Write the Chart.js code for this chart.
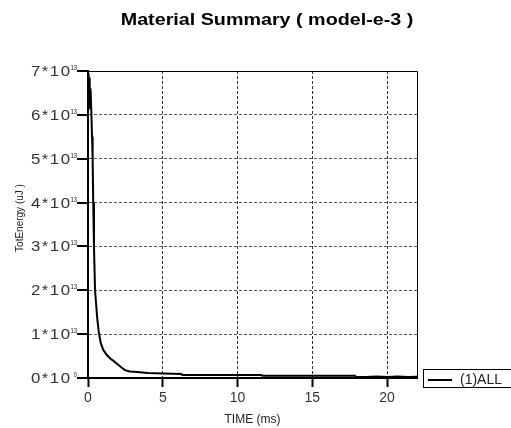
<!DOCTYPE html>
<html>
<head>
<meta charset="utf-8">
<title>Material Summary</title>
<script src="https://cdn.jsdelivr.net/npm/chart.js@4/dist/chart.umd.min.js"></script>
<style>
  html, body { margin: 0; padding: 0; background: #fff; }
  #wrap { width: 511px; height: 428px; }
</style>
</head>
<body>
<div id="wrap"><canvas id="c" width="511" height="428"></canvas></div>
<script>
// Total energy history for material group (1)ALL
const timeMs = [
  0, 0.02, 0.04, 0.06, 0.08, 0.10, 0.12, 0.14, 0.17, 0.22,
  0.27, 0.31, 0.35, 0.40, 0.47, 0.54, 0.62, 0.72, 0.85, 1.02,
  1.25, 1.47, 1.70, 1.92, 2.20, 2.47, 2.80, 3.10, 4.00, 5.04,
  6.25, 6.30, 11.60, 11.65, 17.85, 17.90, 18.6, 19.3, 20.0, 20.7,
  21.4, 22.0
];
const totEnergy = [
  6.9e13, 6.6e13, 6.95e13, 6.3e13, 6.85e13, 6.2e13, 6.8e13, 6.15e13, 6.6e13, 6.1e13,
  5.5e13, 5.0e13, 4.0e13, 3.0e13, 2.0e13, 1.7e13, 1.35e13, 1.05e13, 0.8e13, 0.64e13,
  0.53e13, 0.45e13, 0.39e13, 0.33e13, 0.25e13, 0.18e13, 0.15e13, 0.14e13, 0.115e13, 0.1e13,
  0.09e13, 0.068e13, 0.068e13, 0.05e13, 0.05e13, 0.03e13, 0.02e13, 0.035e13, 0.02e13, 0.035e13,
  0.02e13, 0.03e13
];
const xTicks = [0, 5, 10, 15, 20];
const yTicks = [0, 1e13, 2e13, 3e13, 4e13, 5e13, 6e13, 7e13];
const seriesLabel = '(1)ALL';
const chartTitle = 'Material Summary ( model-e-3 )';
const xTitle = 'TIME (ms)';
const yTitle = 'TotEnergy (uJ )';

const FONT = "'Liberation Sans', Arial, sans-serif";

// text drawn with an optional horizontal stretch
function drawText(ctx, text, x, y, font, align, sx, color) {
  ctx.save();
  ctx.font = font;
  ctx.fillStyle = color || '#000';
  ctx.textBaseline = 'alphabetic';
  const w = ctx.measureText(text).width * sx;
  let left = x;
  if (align === 'center') left = x - w / 2;
  else if (align === 'right') left = x - w;
  ctx.translate(left, y);
  ctx.scale(sx, 1);
  ctx.textAlign = 'left';
  ctx.fillText(text, 0, 0);
  ctx.restore();
  return w;
}

// right-aligned, slightly widened text with extra spacing between characters
function drawSpaced(ctx, text, right, y, font, sx, gap, color) {
  ctx.save();
  ctx.font = font;
  ctx.fillStyle = color;
  ctx.textBaseline = 'alphabetic';
  ctx.textAlign = 'left';
  const chars = Array.from(text);
  const widths = chars.map(ch => ctx.measureText(ch).width * sx);
  const total = widths.reduce((s, w) => s + w, 0) + gap * (chars.length - 1);
  let x = right - total;
  chars.forEach((ch, i) => {
    ctx.save();
    ctx.translate(x, y);
    ctx.scale(sx, 1);
    ctx.fillText(ch, 0, 0);
    ctx.restore();
    x += widths[i] + gap;
  });
  ctx.restore();
}

const decorations = {
  id: 'decorations',
  beforeDatasetsDraw(chart) {
    const {ctx, chartArea: a} = chart;
    const ys = chart.scales.y;
    ctx.save();
    ctx.strokeStyle = '#000';
    ctx.lineWidth = 1;
    ctx.beginPath();
    ctx.moveTo(a.left, a.top + 0.5);
    ctx.lineTo(a.right + 0.5, a.top + 0.5);
    ctx.lineTo(a.right + 0.5, a.bottom);
    ctx.stroke();
    // y tick marks outside the left axis
    ctx.lineWidth = 2;
    yTicks.forEach(v => {
      const py = Math.round(ys.getPixelForValue(v));
      ctx.beginPath();
      ctx.moveTo(a.left - 11, py);
      ctx.lineTo(a.left, py);
      ctx.stroke();
    });
    ctx.restore();
  },
  afterDraw(chart) {
    const {ctx} = chart;
    const ys = chart.scales.y;
    const xs = chart.scales.x;

    // title
    drawText(ctx, chartTitle, 267, 25, 'bold 17px ' + FONT, 'center', 1.16, '#000');

    // y tick labels: k*10^e
    yTicks.forEach(v => {
      const py = ys.getPixelForValue(v);
      const k = Math.round(v / 1e13);
      const exp = v === 0 ? '0' : '13';
      drawText(ctx, exp, 77, py - 1, '7px ' + FONT, 'right', 0.85, '#222');
      drawSpaced(ctx, k + '*10', 70, py + 5, '14px ' + FONT, 1.2, 1.5, '#333');
    });

    // y axis title
    ctx.save();
    ctx.translate(23, 218);
    ctx.rotate(-Math.PI / 2);
    drawText(ctx, yTitle, 0, 0, '10px ' + FONT, 'center', 1.0, '#222');
    ctx.restore();

    // x axis title
    drawText(ctx, xTitle, (xs.left + xs.right) / 2, 423, '12px ' + FONT, 'center', 1.0, '#222');

    // legend box
    ctx.save();
    ctx.strokeStyle = '#000';
    ctx.lineWidth = 1;
    ctx.strokeRect(423.5, 369.5, 95, 18);
    ctx.lineWidth = 2;
    ctx.beginPath();
    ctx.moveTo(428, 380);
    ctx.lineTo(452, 380);
    ctx.stroke();
    ctx.restore();
    drawText(ctx, seriesLabel, 460, 384, '14px ' + FONT, 'left', 1.0, '#222');
  }
};

new Chart(document.getElementById('c'), {
  type: 'line',
  data: {
    datasets: [{
      label: seriesLabel,
      data: timeMs.map((t, i) => ({x: t, y: totEnergy[i]})),
      borderColor: '#000',
      borderWidth: 2,
      pointRadius: 0,
      tension: 0,
      fill: false
    }]
  },
  options: {
    responsive: false,
    animation: false,
    devicePixelRatio: 1,
    layout: { padding: { left: 0, top: 71, right: 94, bottom: 0 } },
    plugins: {
      legend: { display: false },
      title: { display: false },
      tooltip: { enabled: false }
    },
    scales: {
      x: {
        type: 'linear',
        min: 0,
        max: 22,
        afterBuildTicks: s => { s.ticks = xTicks.map(v => ({value: v})); },
        afterFit: s => { s.height = 50; },
        ticks: {
          display: true,
          autoSkip: false,
          maxRotation: 0,
          padding: 3,
          color: '#333',
          font: { family: FONT, size: 14 }
        },
        grid: {
          color: '#333',
          lineWidth: 1,
          drawTicks: true,
          tickLength: 9,
          tickWidth: 2,
          tickColor: '#000'
        },
        border: { display: true, color: '#000', width: 2, dash: [3, 2] }
      },
      y: {
        type: 'linear',
        min: 0,
        max: 7e13,
        afterBuildTicks: s => { s.ticks = yTicks.map(v => ({value: v})); },
        afterFit: s => { s.width = 88; },
        ticks: { display: false },
        grid: {
          color: '#555',
          lineWidth: 1,
          drawTicks: false
        },
        border: { display: true, color: '#000', width: 2, dash: [3, 2] }
      }
    }
  },
  plugins: [decorations]
});
</script>
</body>
</html>
